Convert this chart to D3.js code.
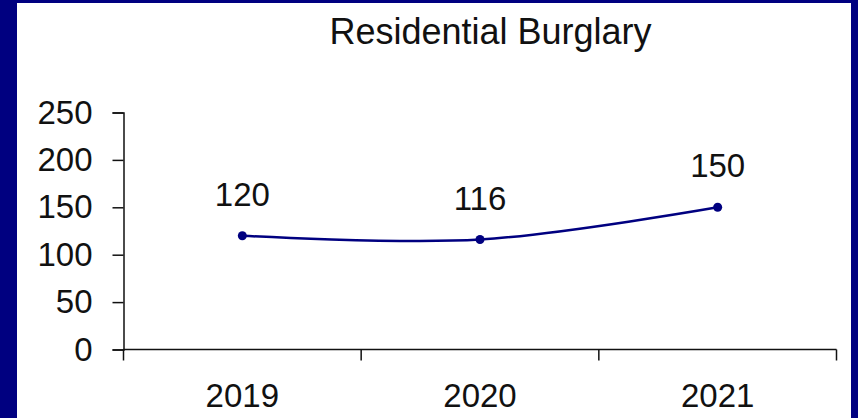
<!DOCTYPE html>
<html>
<head>
<meta charset="utf-8">
<script src="https://cdn.jsdelivr.net/npm/d3@7"></script>
<style>
  html, body { margin: 0; padding: 0; background: #000080; }
  svg { display: block; }
  text { font-family: "Liberation Sans", Arial, sans-serif; fill: #111; }
</style>
</head>
<body>
<svg id="chart" width="858" height="418"></svg>
<script>
const title = "Residential Burglary";
const years = ["2019", "2020", "2021"];
const values = [120, 116, 150];
const yTicks = [0, 50, 100, 150, 200, 250];

(function () {
const svg = d3.select("#chart");
const W = 858, H = 418;
const navy = "#000080";

// blue frame with white panel
svg.append("rect").attr("x", 0).attr("y", 0).attr("width", W).attr("height", H).attr("fill", navy);
svg.append("rect").attr("x", 17).attr("y", 3).attr("width", 834).attr("height", H - 3).attr("fill", "#fff");

const mLeft = 123.5, mRight = 836.5, mTop = 112.5, mBottom = 349.5;

const x = d3.scaleBand().domain(years).range([mLeft, mRight]).padding(0);
const y = d3.scaleLinear().domain([0, 250]).range([mBottom, mTop]);

// title
svg.append("text")
  .attr("x", 490.5).attr("y", 44)
  .attr("text-anchor", "middle")
  .style("font-size", "36px")
  .text(title);

// y axis
const yAxis = svg.append("g")
  .attr("transform", `translate(${mLeft},0)`)
  .call(d3.axisLeft(y).tickValues(yTicks).tickSize(11).tickPadding(20).tickSizeOuter(11));
yAxis.select(".domain").attr("stroke", "#111").attr("stroke-width", 1.5);
yAxis.selectAll(".tick line").attr("stroke", "#111").attr("stroke-width", 1.5);
yAxis.selectAll(".tick text")
  .style("font-size", "33px")
  .style("font-family", "'Liberation Sans', Arial, sans-serif")
  .attr("fill", "#111");

// x axis line and boundary ticks
const xg = svg.append("g");
xg.append("line")
  .attr("x1", mLeft).attr("x2", mRight)
  .attr("y1", mBottom).attr("y2", mBottom)
  .attr("stroke", "#111").attr("stroke-width", 1.5);
const bounds = years.map(d => x(d)).concat([x(years[years.length - 1]) + x.bandwidth()]);
xg.selectAll("line.tk").data(bounds).join("line")
  .attr("class", "tk")
  .attr("x1", d => d).attr("x2", d => d)
  .attr("y1", mBottom).attr("y2", mBottom + 11)
  .attr("stroke", "#111").attr("stroke-width", 1.5);
xg.selectAll("text.cat").data(years).join("text")
  .attr("class", "cat")
  .attr("x", d => x(d) + x.bandwidth() / 2)
  .attr("y", 407)
  .attr("text-anchor", "middle")
  .style("font-size", "33px")
  .text(d => d);

// line
const pts = years.map((d, i) => [x(d) + x.bandwidth() / 2, y(values[i])]);
svg.append("path")
  .attr("d", d3.line().curve(d3.curveCatmullRom.alpha(0))(pts))
  .attr("fill", "none")
  .attr("stroke", navy)
  .attr("stroke-width", 2.5);

svg.selectAll("circle.pt").data(pts).join("circle")
  .attr("class", "pt")
  .attr("cx", d => d[0]).attr("cy", d => d[1])
  .attr("r", 4.5)
  .attr("fill", navy);

svg.selectAll("text.lbl").data(values).join("text")
  .attr("class", "lbl")
  .attr("x", (d, i) => pts[i][0])
  .attr("y", (d, i) => pts[i][1] - 30)
  .attr("text-anchor", "middle")
  .style("font-size", "33px")
  .text(d => d);
})();
</script>
</body>
</html>
